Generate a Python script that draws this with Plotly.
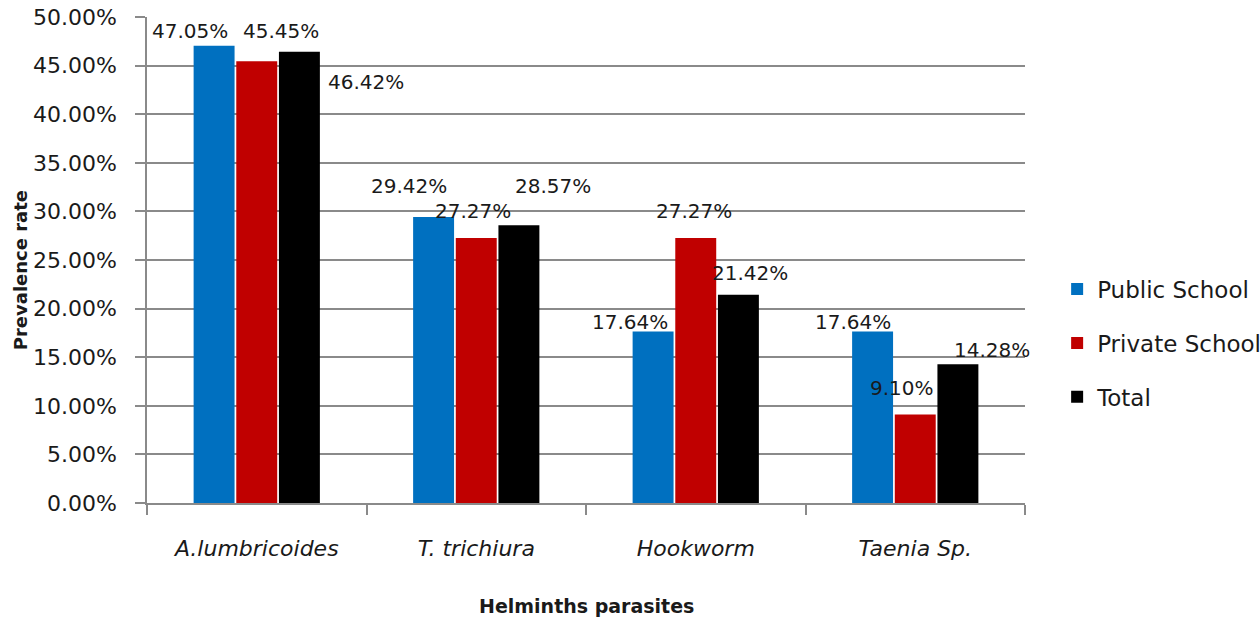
import plotly.graph_objects as go

categories = ["A.lumbricoides", "T. trichiura", "Hookworm", "Taenia Sp."]
public_school = [47.05, 29.42, 17.64, 17.64]
private_school = [45.45, 27.27, 27.27, 9.10]
total = [46.42, 28.57, 21.42, 14.28]
series_names = ["Public School", "Private School", "Total"]
y_ticks = [0, 5, 10, 15, 20, 25, 30, 35, 40, 45, 50]

colors = ["#0070C0", "#C00000", "#000000"]
# label pixel offsets (x from category centre, y from bar top) per series
label_dx = [[-67, -67, -66, -62], [24, -3, -2, -13], [109, 77, 54, 77]]
label_dy = [[15, 31, 10, 10], [30, 27, 27, 27], [-30, 39, 22, 14]]

FONT = "DejaVu Sans, sans-serif"
TXT = "#1a1a1a"
GRID = "#8a8a8a"

fig = go.Figure()
series = [public_school, private_school, total]
for i, (name, vals) in enumerate(zip(series_names, series)):
    fig.add_trace(go.Bar(
        name=name, x=categories, y=[v / 100 for v in vals],
        marker=dict(color=colors[i], line=dict(width=0)),
        legendgroup=name,
    ))

for i, vals in enumerate(series):
    for j, (c, v) in enumerate(zip(categories, vals)):
        fig.add_annotation(
            x=c, y=v / 100, xref="x", yref="y",
            text=f"{v:.2f}%", showarrow=False,
            xshift=label_dx[i][j], yshift=label_dy[i][j],
            font=dict(family=FONT, size=20, color=TXT),
        )

# axis titles
fig.add_annotation(x=-0.1446, y=0.479, xref="paper", yref="paper",
                   xanchor="center", yanchor="middle",
                   text="<b>Prevalence rate</b>", textangle=-90, showarrow=False,
                   font=dict(family=FONT, size=18, color=TXT))
fig.add_annotation(x=0.5, y=-0.212, xref="paper", yref="paper",
                   xanchor="center", yanchor="middle",
                   text="<b>Helminths parasites</b>", showarrow=False,
                   font=dict(family=FONT, size=19, color=TXT))

fig.update_layout(
    width=1260, height=622,
    margin=dict(l=147, r=235, t=17, b=119, autoexpand=False),
    paper_bgcolor="white", plot_bgcolor="white",
    barmode="group", bargap=0.417, bargroupgap=0.04,
    font=dict(family=FONT, size=20, color=TXT),
    legend=dict(x=1.0366, y=0.329, xanchor="left", yanchor="middle",
                font=dict(family=FONT, size=23, color=TXT),
                tracegroupgap=21, traceorder="grouped"),
    xaxis=dict(
        range=[-0.5, len(categories) - 0.5],
        showline=True, linecolor=GRID, linewidth=1.5,
        ticks="outside", ticklen=10, tickcolor=GRID, tickwidth=1.5,
        tickson="boundaries", automargin=False,
        tickfont=dict(family=FONT, size=22, color=TXT),
        ticklabelstandoff=25,
        categoryorder="array", categoryarray=categories,
    ),
    yaxis=dict(
        range=[0, 0.5], tickvals=[t / 100 for t in y_ticks], tickformat=".2%",
        showline=True, linecolor=GRID, linewidth=1.5,
        showgrid=True, gridcolor=GRID, gridwidth=1.5,
        ticks="outside", ticklen=10, tickcolor=GRID, tickwidth=1.5,
        tickfont=dict(family=FONT, size=22, color=TXT),
        ticklabelstandoff=14, automargin=False, ticklabeloverflow="allow",
        zeroline=False,
    ),
)
fig.update_xaxes(tickvals=categories, ticktext=[f"<i>{c}</i>" for c in categories])

fig.write_html("out.html", config={"displayModeBar": False},
               post_script="document.body.style.margin='0';document.body.style.overflow='hidden';")
